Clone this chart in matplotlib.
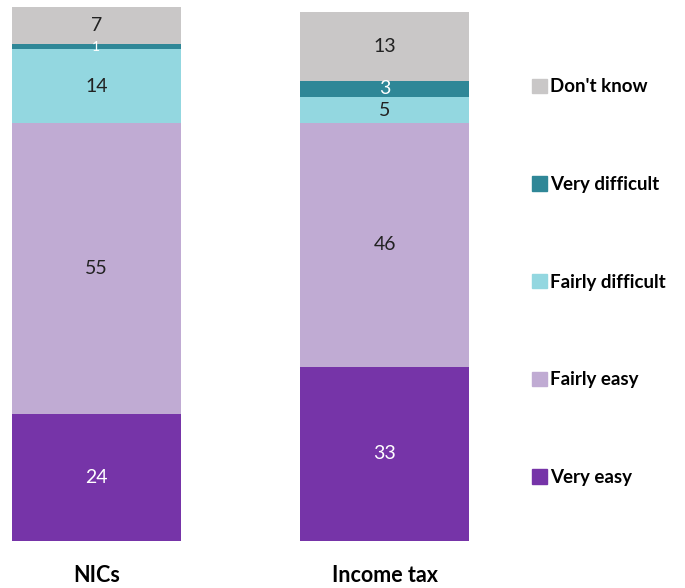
import matplotlib
matplotlib.use("Agg")
import matplotlib.pyplot as plt
from matplotlib.patches import Patch
import numpy as np

plt.rcParams["font.family"] = ["Lato", "DejaVu Sans"]

categories = ["NICs", "Income tax"]
segments = ["Very easy", "Fairly easy", "Fairly difficult", "Very difficult", "Don't know"]
values = {
    "Very easy": [24, 33],
    "Fairly easy": [55, 46],
    "Fairly difficult": [14, 5],
    "Very difficult": [1, 3],
    "Don't know": [7, 13],
}
colors = {
    "Very easy": "#7634a8",
    "Fairly easy": "#c0abd3",
    "Fairly difficult": "#93d7e0",
    "Very difficult": "#2f8797",
    "Don't know": "#c9c7c7",
}
text_colors = {
    "Very easy": "white",
    "Fairly easy": "#222222",
    "Fairly difficult": "#222222",
    "Very difficult": "white",
    "Don't know": "#222222",
}

fig = plt.figure(figsize=(6.85, 5.88), dpi=100)
ax = fig.add_axes([12 / 685, 1 - 541 / 588, (469 - 12) / 685, (541 - 7) / 588])

x = np.arange(len(categories))
width = 0.585
bottom = np.zeros(len(categories))
for seg in segments:
    vals = np.array(values[seg], dtype=float)
    ax.bar(x, vals, width, bottom=bottom, color=colors[seg], label=seg, linewidth=0)
    for xi, v, b in zip(x, vals, bottom):
        fs = 10 if v < 2 else 14
        ax.text(xi, b + v / 2, f"{v:g}", ha="center", va="center",
                fontsize=fs, color=text_colors[seg])
    bottom += vals

ax.set_xlim(-width / 2, 1 + width / 2)
ax.set_ylim(0, 101)
ax.axis("off")

for xi, cat in zip(x, categories):
    ax.annotate(cat, (xi, 0), xytext=(0, -24.5), textcoords="offset points",
                ha="center", va="center", fontsize=15.5, fontweight="bold",
                annotation_clip=False)

handles = [Patch(color=colors[s]) for s in reversed(segments)]
fig.legend(handles, list(reversed(segments)), loc="upper left",
           bbox_to_anchor=(524 / 685, 1 - 71 / 588), frameon=False,
           prop={"size": 13.5, "weight": "bold"},
           handlelength=0.8, handleheight=0.8,
           handletextpad=0.2, labelspacing=4.3, borderaxespad=0)

fig.savefig("out.png", dpi=100)
